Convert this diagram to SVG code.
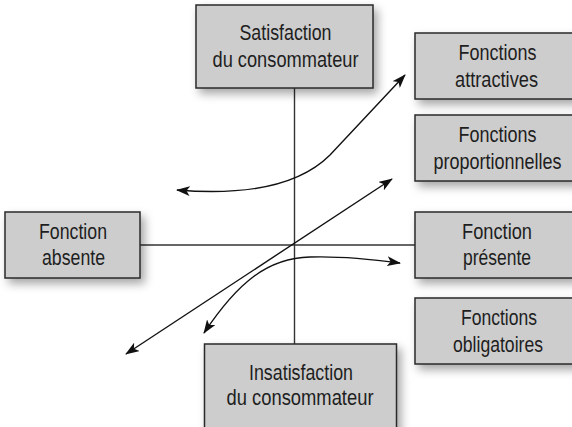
<svg xmlns="http://www.w3.org/2000/svg" width="572" height="427" viewBox="0 0 572 427">
  <style>
    .box { fill: #cdcdcd; stroke: #2a2a2a; stroke-width: 1.5; filter: url(#shadow); }
    .lbl { font-family: "Liberation Sans", Arial, sans-serif; font-size: 22px; fill: #1e1e1e; text-anchor: middle; }
    .axis { stroke: #333333; stroke-width: 1.4; fill: none; }
    .arrow { stroke: #111111; stroke-width: 1.4; fill: none; marker-end: url(#head); }
  </style>
  <defs>
    <filter id="shadow" x="-20%" y="-30%" width="150%" height="170%">
      <feDropShadow dx="4" dy="5" stdDeviation="5" flood-color="#000000" flood-opacity="0.35"/>
    </filter>
    <marker id="head" viewBox="0 0 14 10" refX="13" refY="5" markerWidth="14" markerHeight="10" markerUnits="userSpaceOnUse" orient="auto-start-reverse">
      <path d="M0,0 L14,5 L0,10 L3.5,5 z" fill="#111111"/>
    </marker>
  </defs>
  <rect width="572" height="427" fill="#ffffff"/>

  <!-- axes and curves -->
  <g id="connectors">
    <line class="axis" x1="294.5" y1="88" x2="294.5" y2="344"/>
    <line class="axis" x1="140" y1="245" x2="415" y2="245"/>
    <line class="arrow" x1="126" y1="354" x2="392" y2="179" marker-start="url(#head)"/>
    <path class="arrow" d="M177,190 C250,196 300,185 330,155 C355,128 380,102 405,75" marker-start="url(#head)"/>
    <path class="arrow" d="M204,333 C238,282 268,258 310,257 C340,256 370,259 400,263" marker-start="url(#head)"/>
  </g>

  <g id="satisfaction">
    <rect class="box" x="196" y="5" width="177" height="83"/>
    <text class="lbl" x="285.5" y="39.5" textLength="92" lengthAdjust="spacingAndGlyphs">Satisfaction</text>
    <text class="lbl" x="285.5" y="67" textLength="146" lengthAdjust="spacingAndGlyphs">du consommateur</text>
  </g>

  <g id="attractives">
    <rect class="box" x="415" y="33" width="170" height="66"/>
    <text class="lbl" x="497.5" y="60" textLength="78" lengthAdjust="spacingAndGlyphs">Fonctions</text>
    <text class="lbl" x="496.5" y="87" textLength="83" lengthAdjust="spacingAndGlyphs">attractives</text>
  </g>

  <g id="proportionnelles">
    <rect class="box" x="415" y="115" width="170" height="66"/>
    <text class="lbl" x="497.5" y="142" textLength="78" lengthAdjust="spacingAndGlyphs">Fonctions</text>
    <text class="lbl" x="497.5" y="168.5" textLength="128" lengthAdjust="spacingAndGlyphs">proportionnelles</text>
  </g>

  <g id="presente">
    <rect class="box" x="415" y="212" width="170" height="66"/>
    <text class="lbl" x="497" y="238.5" textLength="70" lengthAdjust="spacingAndGlyphs">Fonction</text>
    <text class="lbl" x="497" y="265" textLength="68" lengthAdjust="spacingAndGlyphs">présente</text>
  </g>

  <g id="obligatoires">
    <rect class="box" x="415" y="298" width="170" height="66"/>
    <text class="lbl" x="499" y="325" textLength="76" lengthAdjust="spacingAndGlyphs">Fonctions</text>
    <text class="lbl" x="498" y="351.5" textLength="90" lengthAdjust="spacingAndGlyphs">obligatoires</text>
  </g>

  <g id="absente">
    <rect class="box" x="5" y="212" width="135" height="66"/>
    <text class="lbl" x="73" y="239" textLength="68" lengthAdjust="spacingAndGlyphs">Fonction</text>
    <text class="lbl" x="73.5" y="265" textLength="63" lengthAdjust="spacingAndGlyphs">absente</text>
  </g>

  <g id="insatisfaction">
    <rect class="box" x="204.5" y="344" width="192" height="100"/>
    <text class="lbl" x="301" y="380" textLength="104" lengthAdjust="spacingAndGlyphs">Insatisfaction</text>
    <text class="lbl" x="300" y="405" textLength="147" lengthAdjust="spacingAndGlyphs">du consommateur</text>
  </g>
</svg>
